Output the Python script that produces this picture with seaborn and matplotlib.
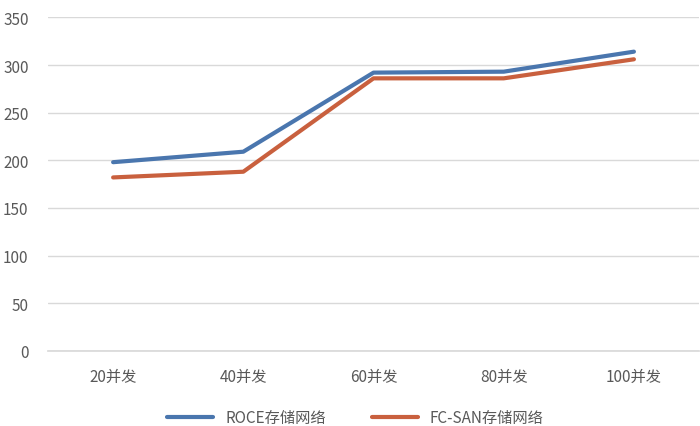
import matplotlib
matplotlib.use("Agg")
import matplotlib.pyplot as plt
import seaborn as sns
import pandas as pd

categories = ["20并发", "40并发", "60并发", "80并发", "100并发"]
roce_values = [198, 209, 292, 293, 314]
fcsan_values = [182, 188, 286, 286, 306]
series_names = ["ROCE存储网络", "FC-SAN存储网络"]
y_ticks = [0, 50, 100, 150, 200, 250, 300, 350]

df = pd.DataFrame({
    "cat": categories * 2,
    "value": roce_values + fcsan_values,
    "series": [series_names[0]] * len(categories) + [series_names[1]] * len(categories),
})
df["pos"] = list(range(len(categories))) * 2

sns.set_theme(style="white")
plt.rcParams["font.family"] = ["Noto Sans CJK SC", "DejaVu Sans"]

fig = plt.figure(figsize=(7, 4.27), dpi=100)
ax = fig.add_axes([0.0686, 0.176, 0.93, 0.781])

palette = {series_names[0]: "#4a76ae", series_names[1]: "#c9603e"}
sns.lineplot(data=df, x="pos", y="value", hue="series", palette=palette,
             linewidth=3.0, ax=ax, legend=False, sort=False)

ax.set_xlim(-0.5, len(categories) - 0.5)
ax.set_ylim(0, 350)
ax.set_yticks(y_ticks)
ax.set_xticks(range(len(categories)))
ax.set_xticklabels(categories)
ax.set_xlabel("")
ax.set_ylabel("")
ax.grid(axis="y", color="#d9d9d9", linewidth=1.0)
ax.set_axisbelow(True)
for side in ["top", "right", "left"]:
    ax.spines[side].set_visible(False)
ax.spines["bottom"].set_color("#d9d9d9")
ax.tick_params(axis="both", length=0, labelsize=11, colors="#595959")
ax.tick_params(axis="x", pad=12)
ax.tick_params(axis="y", pad=14)

handles = [plt.Line2D([], [], color=palette[n], linewidth=3.0) for n in series_names]
fig.legend(handles, series_names, loc="center", bbox_to_anchor=(0.508, 0.02),
           ncol=2, frameon=False, fontsize=11, handlelength=3.0,
           columnspacing=3.0, labelcolor="#595959")

fig.savefig("out.png", dpi=100, facecolor="white")
